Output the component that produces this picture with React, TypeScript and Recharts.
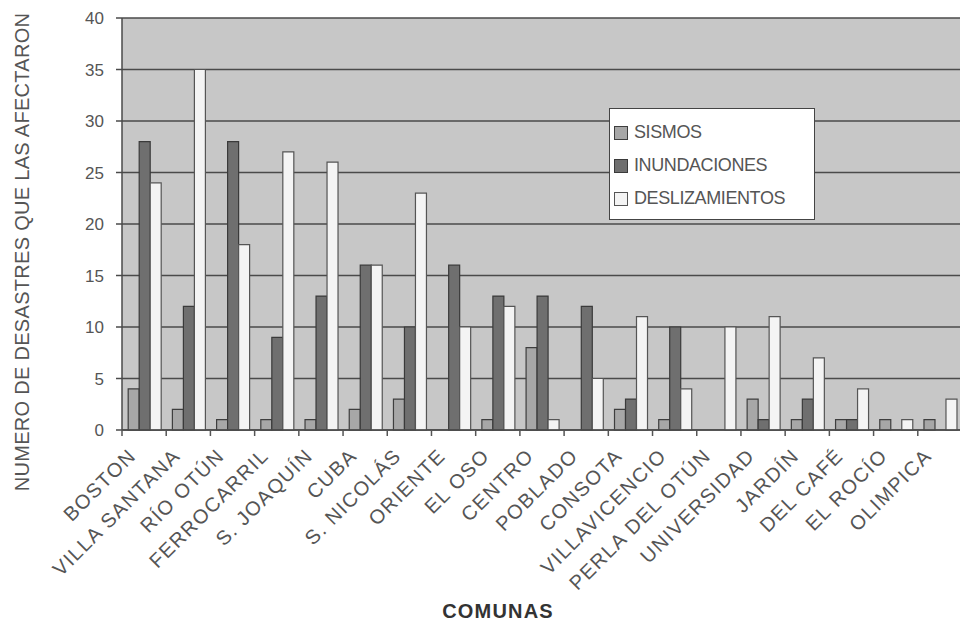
import { BarChart, Bar, XAxis, YAxis, CartesianGrid, Legend } from "recharts";

const comunas = [
  "BOSTON",
  "VILLA SANTANA",
  "RÍO OTÚN",
  "FERROCARRIL",
  "S. JOAQUÍN",
  "CUBA",
  "S. NICOLÁS",
  "ORIENTE",
  "EL OSO",
  "CENTRO",
  "POBLADO",
  "CONSOTA",
  "VILLAVICENCIO",
  "PERLA DEL OTÚN",
  "UNIVERSIDAD",
  "JARDÍN",
  "DEL CAFÉ",
  "EL ROCÍO",
  "OLIMPICA",
];

const sismos = [4, 2, 1, 1, 1, 2, 3, 0, 1, 8, 0, 2, 1, 0, 3, 1, 1, 1, 1];
const inundaciones = [28, 12, 28, 9, 13, 16, 10, 16, 13, 13, 12, 3, 10, 0, 1, 3, 1, 0, 0];
const deslizamientos = [24, 35, 18, 27, 26, 16, 23, 10, 12, 1, 5, 11, 4, 10, 11, 7, 4, 1, 3];

const yTicks = [0, 5, 10, 15, 20, 25, 30, 35, 40];

const data = comunas.map((comuna, i) => ({
  comuna,
  sismos: sismos[i],
  inundaciones: inundaciones[i],
  deslizamientos: deslizamientos[i],
}));

const series = [
  { key: "sismos", label: "SISMOS", fill: "#a7a7a7", stroke: "#3e3e3e" },
  { key: "inundaciones", label: "INUNDACIONES", fill: "#6f6f6f", stroke: "#3a3a3a" },
  { key: "deslizamientos", label: "DESLIZAMIENTOS", fill: "#f4f4f4", stroke: "#555555" },
];

const textColor = "#555";
const font = "'Liberation Sans', Arial, sans-serif";

function CategoryTick(props: any) {
  const { x, y, payload } = props;
  const half = payload && typeof payload.offset === "number" ? payload.offset : 22;
  return (
    <g>
      <line x1={x - half} x2={x - half} y1={y} y2={y + 6} stroke={textColor} strokeWidth={1.5} />
      <text
        transform={`translate(${x - 7},${y + 27}) rotate(-45)`}
        textAnchor="end"
        fontSize={20}
        letterSpacing={1.4}
        fontFamily={font}
        fill={textColor}
      >
        {payload.value}
      </text>
    </g>
  );
}

function LegendBox() {
  return (
    <div
      style={{
        width: 206,
        height: 112,
        background: "#fff",
        border: "1.5px solid #444",
        boxSizing: "border-box",
        padding: "9px 0 0 4px",
        fontFamily: font,
        fontSize: 18,
        color: textColor,
      }}
    >
      {series.map((s) => (
        <div key={s.key} style={{ display: "flex", alignItems: "center", height: 37, marginTop: -4 }}>
          <span
            style={{
              display: "inline-block",
              width: 12,
              height: 12,
              background: s.fill,
              border: `1.5px solid ${s.stroke}`,
              marginRight: 6,
            }}
          />
          <span style={{ letterSpacing: -0.4 }}>{s.label}</span>
        </div>
      ))}
    </div>
  );
}

export default function App() {
  return (
    <div
      style={{
        position: "absolute",
        left: 0,
        top: 0,
        width: 960,
        height: 627,
        overflow: "hidden",
        background: "#fff",
      }}
    >
      <BarChart
        width={972}
        height={627}
        data={data}
        margin={{ top: 18, right: 10, left: 0, bottom: 0 }}
        barCategoryGap="14%"
        barGap={0}
      >
        <CartesianGrid
          vertical={false}
          stroke="#4a4a4a"
          strokeWidth={1.5}
          fill="#c7c7c7"
          fillOpacity={1}
        />
        <XAxis
          dataKey="comuna"
          interval={0}
          height={197}
          tickSize={0}
          tickMargin={0}
          tickLine={false}
          axisLine={{ stroke: "#4a4a4a", strokeWidth: 1.5 }}
          tick={<CategoryTick />}
          label={{
            content: () => (
              <text
                x={498}
                y={618}
                textAnchor="middle"
                fontSize={20}
                fontWeight="bold"
                letterSpacing={1.2}
                fontFamily={font}
                fill="#333"
              >
                COMUNAS
              </text>
            ),
          }}
        />
        <YAxis
          width={122}
          domain={[0, 40]}
          ticks={yTicks}
          interval={0}
          tickSize={6}
          tickMargin={12}
          tickLine={{ stroke: "#4a4a4a", strokeWidth: 1.5 }}
          axisLine={{ stroke: "#4a4a4a", strokeWidth: 1.5 }}
          tick={{ fill: textColor, fontSize: 17, fontFamily: font }}
          label={{
            content: () => (
              <text
                transform="translate(29,252) rotate(-90)"
                textAnchor="middle"
                fontSize={20}
                letterSpacing={0.3}
                fontFamily={font}
                fill={textColor}
              >
                NUMERO DE DESASTRES QUE LAS AFECTARON
              </text>
            ),
          }}
        />
        <Legend
          layout="vertical"
          align="center"
          verticalAlign="middle"
          content={() => <LegendBox />}
          wrapperStyle={{ position: "absolute", left: 609, top: 108, width: 206, height: 112 }}
        />
        {series.map((s) => (
          <Bar
            key={s.key}
            dataKey={s.key}
            name={s.label}
            fill={s.fill}
            stroke={s.stroke}
            strokeWidth={1.2}
            isAnimationActive={false}
          />
        ))}
      </BarChart>
    </div>
  );
}
